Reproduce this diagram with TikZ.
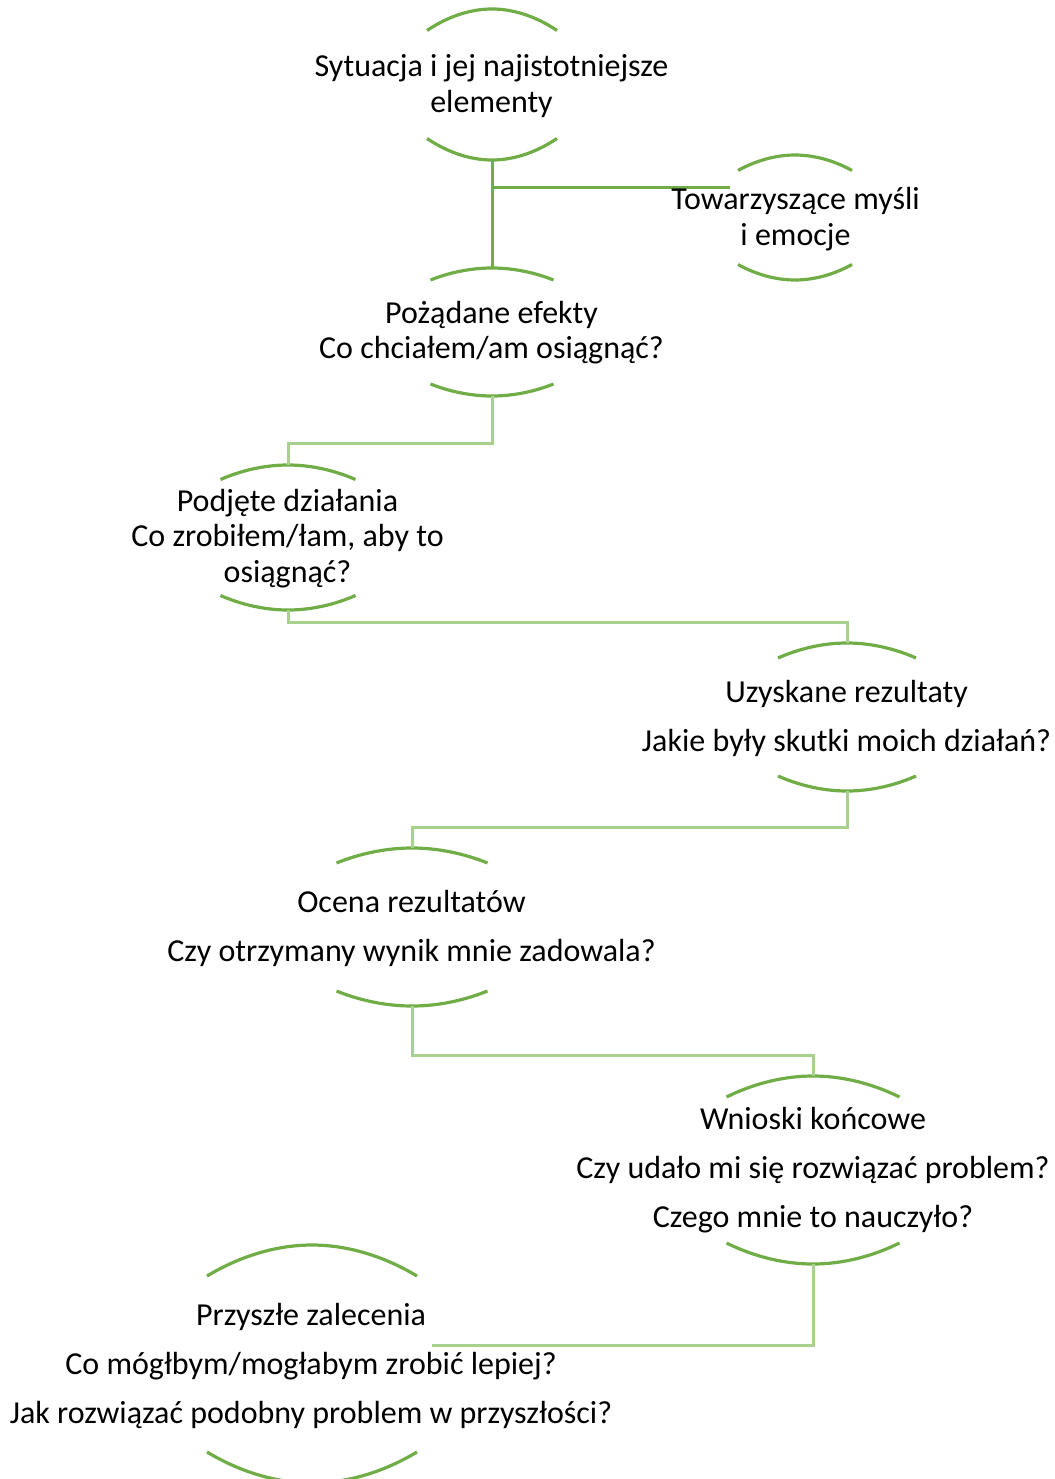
\documentclass[tikz,border=0pt]{standalone}
\usepackage{fontspec}
\setmainfont{Carlito}
\definecolor{arcgreen}{HTML}{70AD47}
\definecolor{lightgreen}{HTML}{A9D18E}
\newcommand\brkt[6]{%
  \coordinate (#1t) at (#2,#3-#5);
  \coordinate (#1b) at (#2,#3+#5);
  \draw[arcline] (#2-#4,#3-#5+#6) parabola bend (#2,#3-#5) (#2+#4,#3-#5+#6);
  \draw[arcline] (#2-#4,#3+#5-#6) parabola bend (#2,#3+#5) (#2+#4,#3+#5-#6);}
\begin{document}
\begin{tikzpicture}[x=1pt,y=-1pt,
  arcline/.style={draw=arcgreen,line width=3.2pt},
  dk/.style={draw=arcgreen,line width=3pt},
  lt/.style={draw=lightgreen,line width=3pt},
  tight/.style={align=center,inner sep=0pt,font=\fontsize{32pt}{35.5pt}\selectfont},
  loose/.style={align=center,inner sep=0pt,font=\fontsize{32pt}{49pt}\selectfont}]
\useasboundingbox (0,0) rectangle (1054,1479);
\clip (0,0) rectangle (1054,1479);
% connectors
\coordinate (j1) at (492,188);
\coordinate (n2l) at (730,188);
\coordinate (n8l) at (432,1345);
\brkt{n1}{492}{84.5}{65}{75.5}{21.5}
\brkt{n2}{795}{217.5}{57}{62.5}{15.5}
\brkt{n3}{492}{332}{61.5}{64}{12}
\brkt{n4}{288}{537.5}{67.5}{72.5}{14.5}
\brkt{n5}{847}{717}{69}{74}{15}
\brkt{n6}{412}{927}{75.5}{79}{15}
\brkt{n7}{813}{1170}{86.5}{94}{21}
\brkt{n8}{312}{1364}{105}{119}{31}
\draw[dk] (n1b) -- (n3t);
\draw[dk] (j1) -- (n2l);
\draw[lt] (n3b) -- ++(0,47) -| (n4t);
\draw[lt] (n4b) -- ++(0,12) -| (n5t);
\draw[lt] (n5b) -- ++(0,36) -| (n6t);
\draw[lt] (n6b) -- ++(0,49) -| (n7t);
\draw[lt] (n7b) |- (n8l);
% texts
\node[tight] (t1) at (491.5,86) {Sytuacja i jej najistotniejsze\\elementy};
\node[tight] (t2) at (795.5,219) {Towarzyszące myśli\\i emocje};
\node[tight] (t3) at (491.5,332.5) {Pożądane efekty\\Co chciałem/am osiągnąć?};
\node[tight] (t4) at (287.5,538.5) {Podjęte działania\\Co zrobiłem/łam, aby to\\osiągnąć?};
\node[loose] (t5) at (846.5,718) {Uzyskane rezultaty\\Jakie były skutki moich działań?};
\node[loose] (t6) at (411.5,928) {Ocena rezultatów\\Czy otrzymany wynik mnie zadowala?};
\node[loose] (t7) at (813,1170.5) {Wnioski końcowe\\Czy udało mi się rozwiązać problem?\\Czego mnie to nauczyło?};
\node[loose] (t8) at (311,1365.5) {Przyszłe zalecenia\\Co mógłbym/mogłabym zrobić lepiej?\\Jak rozwiązać podobny problem w przyszłości?};
\end{tikzpicture}
\end{document}
